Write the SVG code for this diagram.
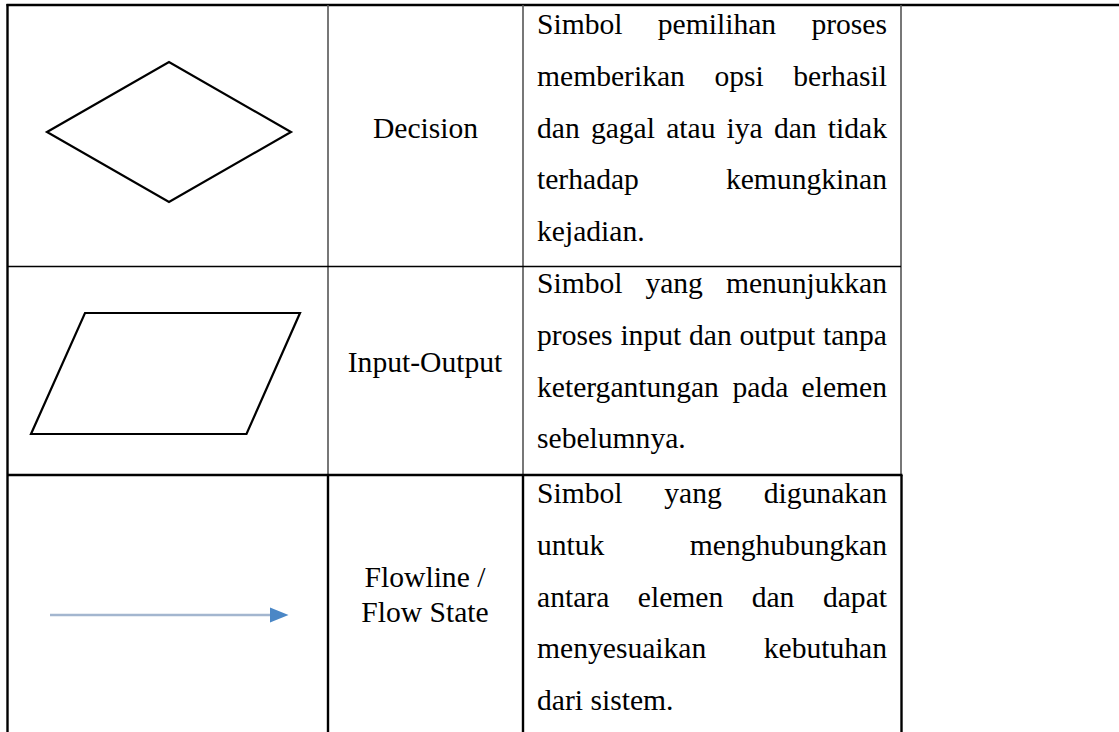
<svg xmlns="http://www.w3.org/2000/svg" width="1119" height="732" viewBox="0 0 1119 732">
<style>
text{font-family:'Liberation Serif','Tinos','Times New Roman','Nimbus Roman','DejaVu Serif',serif;font-size:29.6px;fill:#000}
.c{text-anchor:middle}
.sym{fill:none;stroke:#000;stroke-width:2.2;stroke-linejoin:miter}
.thin{stroke:#000;stroke-width:1.3}
.gray{stroke:#555;stroke-width:1.6}
.thick{stroke:#000;stroke-width:2.4}
</style>
<rect x="0" y="0" width="1119" height="732" fill="#fff"/>
<g id="grid">
<line class="thick" x1="6.5" y1="5" x2="1119" y2="5"/>
<line class="thick" x1="7.5" y1="4" x2="7.5" y2="732"/>
<line class="gray" x1="328" y1="5" x2="328" y2="475"/>
<line class="gray" x1="523" y1="5" x2="523" y2="475"/>
<line class="gray" x1="901" y1="5" x2="901" y2="475"/>
<line class="thin" x1="7" y1="266.5" x2="901" y2="266.5"/>
<line class="thick" x1="7" y1="475" x2="902.5" y2="475"/>
<line class="thick" x1="328" y1="475" x2="328" y2="732"/>
<line class="thick" x1="523" y1="475" x2="523" y2="732"/>
<line class="thick" x1="901.5" y1="475" x2="901.5" y2="732"/>
</g>
<g id="row-decision" font-family="Liberation Serif, Tinos, Times New Roman, serif">
<polygon class="sym" points="47,132 169,62 291,132 169,202"/>
<text class="c" x="425.5" y="138">Decision</text>
<text><tspan x="537" y="34">Simbol</tspan><tspan x="657.8" y="34">pemilihan</tspan><tspan x="887" y="34" text-anchor="end">proses</tspan></text>
<text><tspan x="537" y="85.75">memberikan</tspan><tspan x="714.5" y="85.75">opsi</tspan><tspan x="887" y="85.75" text-anchor="end">berhasil</tspan></text>
<text><tspan x="537" y="137.5">dan</tspan><tspan x="590.9" y="137.5">gagal</tspan><tspan x="666.2" y="137.5">atau</tspan><tspan x="726.6" y="137.5">iya</tspan><tspan x="773.9" y="137.5">dan</tspan><tspan x="887" y="137.5" text-anchor="end">tidak</tspan></text>
<text><tspan x="537" y="189.25">terhadap</tspan><tspan x="887" y="189.25" text-anchor="end">kemungkinan</tspan></text>
<text x="537" y="241">kejadian.</text>
</g>
<g id="row-input-output" font-family="Liberation Serif, Tinos, Times New Roman, serif">
<polygon class="sym" points="85,313 300,313 246.5,434 31,434"/>
<text class="c" x="425" y="372">Input-Output</text>
<text><tspan x="537" y="293">Simbol</tspan><tspan x="645.4" y="293">yang</tspan><tspan x="887" y="293" text-anchor="end">menunjukkan</tspan></text>
<text><tspan x="537" y="344.75">proses</tspan><tspan x="620.4" y="344.75">input</tspan><tspan x="689" y="344.75">dan</tspan><tspan x="739.5" y="344.75">output</tspan><tspan x="887" y="344.75" text-anchor="end">tanpa</tspan></text>
<text><tspan x="537" y="396.5">ketergantungan</tspan><tspan x="732.5" y="396.5">pada</tspan><tspan x="887" y="396.5" text-anchor="end">elemen</tspan></text>
<text x="537" y="448.25">sebelumnya.</text>
</g>
<g id="row-flowline" font-family="Liberation Serif, Tinos, Times New Roman, serif">
<line x1="50" y1="615" x2="272" y2="615" stroke="#a3b6cf" stroke-width="2.6"/>
<polygon points="270,607.5 288.5,615 270,622.5" fill="#4b87c6"/>
<text class="c" x="425" y="587">Flowline /</text>
<text class="c" x="425" y="622">Flow State</text>
<text><tspan x="537" y="503">Simbol</tspan><tspan x="664.3" y="503">yang</tspan><tspan x="887" y="503" text-anchor="end">digunakan</tspan></text>
<text><tspan x="537" y="554.75">untuk</tspan><tspan x="887" y="554.75" text-anchor="end">menghubungkan</tspan></text>
<text><tspan x="537" y="606.5">antara</tspan><tspan x="637.8" y="606.5">elemen</tspan><tspan x="751.7" y="606.5">dan</tspan><tspan x="887" y="606.5" text-anchor="end">dapat</tspan></text>
<text><tspan x="537" y="658.25">menyesuaikan</tspan><tspan x="887" y="658.25" text-anchor="end">kebutuhan</tspan></text>
<text x="537" y="710">dari sistem.</text>
</g>
</svg>
